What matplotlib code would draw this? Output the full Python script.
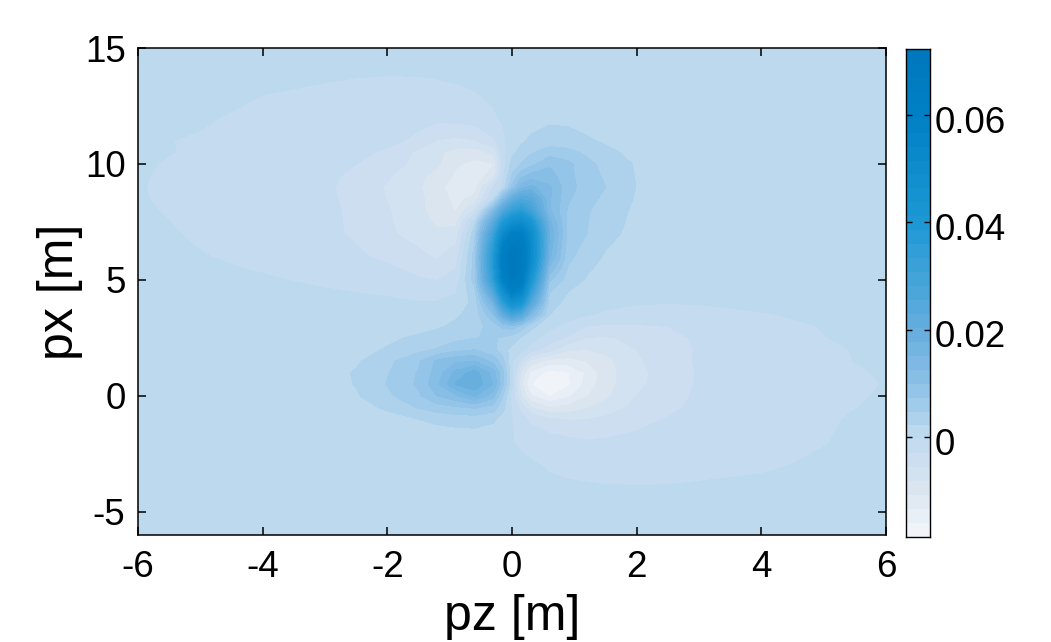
import matplotlib
matplotlib.use('Agg')
import matplotlib.pyplot as plt
import matplotlib.transforms as mtrans
import numpy as np
from matplotlib.colors import LinearSegmentedColormap

plt.rcParams['font.family'] = ['Liberation Sans', 'DejaVu Sans']
plt.rcParams['axes.unicode_minus'] = False

pz = [-6, -5.5, -5, -4, -3, -2.5, -2, -1.5, -1.2, -0.9, -0.6, -0.3, -0.15, 0,
      0.15, 0.3, 0.6, 0.9, 1.2, 1.5, 2, 2.5, 3, 4, 5, 5.5, 6]
px = [15, 14, 13.5, 13, 12, 11, 10.5, 10, 9.5, 9, 8.5, 8, 7.5, 7, 6.5, 6, 5.5, 5, 4.5, 4, 3.5, 3, 2.5, 2, 1.5, 1, 0.5, 0,
      -0.5, -1, -2, -3, -4, -5, -6]

# valores, en milesimas, una fila por cada px
z_milesimas = [
    [0, 0, 0, 0, 0, 0, 0, 0, 0, 0, 0, 0, 0, 0, 0, 0, 0, 0, 0, 0, 0, 0, 0, 0, 0, 0, 0],
    [0, 0, 0, -.05, -.15, -.25, -.3, -.3, -.25, -.2, -.1, -.05, 0, 0, .05, .1, .2, .2, .15, .1, .05, 0, 0, 0, 0, 0, 0],
    [0, 0, -.03, -.15, -.42, -.55, -.6, -.58, -.5, -.4, -.25, -.1, -.05, 0, .1, .25, .4, .35, .25, .15, .05, 0, 0, 0, 0, 0, 0],
    [0, 0, -.1, -.4, -.8, -1, -1.1, -1.1, -1, -.8, -.5, -.2, -.1, 0, .2, .5, .7, .6, .4, .3, .1, 0, 0, 0, 0, 0, 0],
    [0, -.1, -.2, -.9, -1.6, -1.9, -2.1, -2.2, -2.2, -2, -1.6, -.6, -.2, 0, .4, 1, 1.6, 1.5, 1.1, .7, .3, .1, 0, 0, 0, 0, 0],
    [0, -.38, -.6, -.9, -1.4, -1.8, -2.4, -3.6, -5.8, -6.2, -5.8, -3.5, -1, .8, 1.8, 2.6, 3.4, 3.2, 2.5, 1.8, .8, .3, .1, 0, 0, 0, 0],
    [0, -.35, -.7, -1.1, -1.8, -2.4, -3.4, -6.2, -7.6, -9.3, -9.6, -7.5, -1.6, 1.6, 3, 4.4, 6.2, 5.6, 4.2, 2.9, 1.3, .4, .1, 0, 0, 0, 0],
    [-.1, -.6, -.9, -1.3, -2.3, -3, -4.5, -6.4, -7.8, -10.5, -11.5, -11, -2, 3, 5, 6.5, 9.5, 8, 5.6, 3.9, 1.9, .6, .2, 0, 0, 0, 0],
    [-.2, -.75, -1, -1.5, -2.5, -3.5, -5.3, -7.4, -9.2, -11.2, -12.5, -9.5, -1.2, 5, 9, 10.8, 11, 8.2, 5.8, 4.4, 2, .65, .2, 0, 0, 0, 0],
    [-.25, -.9, -1.1, -1.6, -2.6, -3.9, -5.9, -7.8, -10.3, -11.7, -12, -3, 0, 8, 14, 16, 13, 8.5, 6, 4.8, 2.1, .7, .2, 0, 0, 0, 0],
    [-.2, -.8, -1.05, -1.55, -2.55, -3.7, -5.7, -7.6, -9.6, -11.5, -10, 0, 11, 20, 25, 24, 13, 7.8, 5.5, 4.3, 1.9, .6, .15, 0, 0, 0, 0],
    [-.1, -.6, -1, -1.5, -2.5, -3.5, -5.4, -7.3, -9.8, -10.9, -5, 12, 24, 33, 36, 30, 13, 7, 5, 3.8, 1.6, .5, .1, 0, 0, 0, 0],
    [-.05, -.4, -.9, -1.45, -2.45, -3.45, -5.3, -7, -8.8, -9, 1, 22, 38, 47, 50, 42, 16, 6.8, 4.9, 3.4, 1.45, .45, .1, 0, 0, 0, 0],
    [0, -.2, -.8, -1.4, -2.4, -3.4, -5.2, -6.6, -7.6, -7, 4, 30, 50, 60, 60, 50, 18, 6.5, 4.8, 3, 1.3, .4, .1, 0, 0, 0, 0],
    [0, -.15, -.5, -1.2, -2.1, -3, -4.4, -5.8, -6.8, -5.5, 5, 35, 58, 68, 66, 52, 17, 6, 4.1, 2.4, 1, .3, .05, 0, 0, 0, 0],
    [0, -.1, -.3, -1, -1.9, -2.6, -3.6, -5, -5.9, -4, 6, 38, 62, 71, 68, 52, 16, 5.5, 3.4, 1.9, .7, .2, 0, 0, 0, 0, 0],
    [0, -.03, -.15, -.55, -1.2, -1.7, -2.5, -3.9, -4.6, -3, 6, 37, 61, 71, 67, 48, 12, 4.5, 2.6, 1.3, .45, .15, 0, 0, 0, 0, 0],
    [0, 0, -.05, -.25, -.7, -1, -1.6, -2.7, -3.1, -2, 6, 34, 58, 68, 64, 42, 8, 3.6, 1.9, .9, .3, .1, 0, 0, 0, 0, 0],
    [0, 0, 0, -.1, -.3, -.45, -.6, -.9, -1, -.6, 4, 25, 46, 60, 55, 34, 5, 2.2, 1, .4, .1, 0, 0, 0, 0, 0, 0],
    [0, 0, 0, -.05, -.1, -.15, -.2, -.35, -.3, .3, 3, 16, 34, 46, 42, 24, 3.5, 1.2, .5, 0, -.3, -.4, -.35, -.15, 0, 0, 0],
    [0, 0, 0, 0, 0, .05, .1, .4, .9, 1.8, 3.2, 10, 20, 28, 24, 13, 2.2, .5, -.3, -.7, -1, -1, -.9, -.5, -.2, -.1, 0],
    [0, 0, 0, 0, .1, .2, .3, 1, 1.8, 2.7, 3.6, 6, 8, 9, 6.5, 3, .3, -1.2, -3.1, -3.5, -3.4, -3, -2.2, -1, -.35, -.2, -.1],
    [0, 0, 0, 0, .3, .8, 1.6, 2.7, 3.3, 4, 4.7, 5, 4.5, 3.5, 1.8, .5, -1.6, -3.4, -5.7, -5.9, -5, -3.8, -2.6, -1.2, -.45, -.25, -.1],
    [0, 0, 0, 0, .6, 1.2, 2.4, 4, 5, 6.5, 7.2, 5.5, 3, 1.5, .5, -1.5, -4.5, -7.8, -8.2, -7.6, -5.6, -4, -2.8, -1.3, -.6, -.38, -.1],
    [0, 0, 0, .1, 1, 1.8, 4, 7, 10.5, 12, 12.6, 9, 6, 0, -4, -9, -12, -12, -10.8, -9, -6, -4.2, -2.7, -1.4, -.7, -.4, -.2],
    [0, 0, .05, .15, 1.2, 2.4, 4.6, 7.6, 11, 16, 19, 14, 8, 0, -9, -14, -17, -16.2, -13, -9.3, -6.4, -4.4, -2.8, -1.5, -.9, -.55, -.3],
    [0, 0, .05, .15, 1.1, 2.3, 4.9, 7.8, 12, 18, 20, 15, 8, 0, -10, -16, -18.5, -16.5, -12.5, -9.2, -6.2, -4.3, -2.7, -1.5, -.95, -.7, -.35],
    [0, 0, 0, .1, .9, 1.9, 4.2, 6.9, 10, 12, 15.5, 11, 5, -1.5, -8, -13, -16.2, -14, -11, -8.8, -5.6, -4, -2.6, -1.4, -.9, -.55, -.3],
    [0, 0, 0, 0, .5, 1.2, 2.6, 5, 6.2, 7, 7.7, 6.2, 3, -.8, -4, -8, -10.8, -10, -8.6, -7, -4.9, -3.6, -2.4, -1.4, -.8, -.45, -.2],
    [0, 0, 0, 0, .2, .6, 1.2, 2.2, 2.8, 3.2, 3.4, 2.6, 1.2, -.4, -2, -3.6, -5.4, -5.8, -5.7, -5.1, -3.8, -2.9, -2, -1.2, -.6, -.3, -.1],
    [0, 0, 0, 0, 0, 0, .1, .2, .25, .3, .3, .2, .05, -.35, -.7, -1, -1.6, -2.2, -2.7, -2.6, -2.3, -1.9, -1.4, -.8, -.48, -.15, 0],
    [0, 0, 0, 0, 0, 0, 0, 0, 0, 0, 0, 0, 0, 0, 0, -.2, -.6, -.9, -1.1, -1.2, -1.2, -1, -.9, -.6, -.2, -.05, 0],
    [0, 0, 0, 0, 0, 0, 0, 0, 0, 0, 0, 0, 0, 0, 0, 0, 0, -.1, -.15, -.25, -.3, -.3, -.2, -.1, 0, 0, 0],
    [0, 0, 0, 0, 0, 0, 0, 0, 0, 0, 0, 0, 0, 0, 0, 0, 0, 0, 0, 0, 0, 0, 0, 0, 0, 0, 0],
    [0, 0, 0, 0, 0, 0, 0, 0, 0, 0, 0, 0, 0, 0, 0, 0, 0, 0, 0, 0, 0, 0, 0, 0, 0, 0, 0],
]

z_min = -0.0186
z_max = 0.0723
n_bandas = 35

ticks_x = [-6, -4, -2, 0, 2, 4, 6]
ticks_y = [-5, 0, 5, 10, 15]
ticks_barra = [0, 0.02, 0.04, 0.06]
etiquetas_barra = ['0', '0.02', '0.04', '0.06']

paradas = [(-0.0186, '#f3f6fa'), (-0.01, '#dbe5f0'), (-0.0016, '#c4dbef'), (0.0009, '#bbd9ee'),
           (0.01, '#8cc0e7'), (0.02, '#65aede'), (0.04, '#1c98d4'), (0.06, '#0081c5'), (0.0723, '#0077bd')]
pos = [(v - z_min) / (z_max - z_min) for v, _ in paradas]
cmap = LinearSegmentedColormap.from_list('azules', list(zip(pos, [c for _, c in paradas])), N=256)

W, H = 1051, 642
fig = plt.figure(figsize=(W / 100, H / 100), dpi=100)
ax = fig.add_axes([138 / W, 1 - 535 / H, 748 / W, 487 / H])
cax = fig.add_axes([906 / W, 1 - 537 / H, 24 / W, 488 / H])

Z = np.array(z_milesimas) / 1000
niveles = np.linspace(z_min, z_max, n_bandas + 1)
cf = ax.contourf(pz, px, Z, levels=niveles, cmap=cmap, vmin=z_min, vmax=z_max, extend='both')

ax.set_xlim(-6, 6)
ax.set_ylim(-6, 15)
ax.set_xticks(ticks_x)
ax.set_yticks(ticks_y)
ax.tick_params(direction='in', length=5.5, width=1.1, top=True, right=True, labelsize=26.5, pad=9)
ax.tick_params(axis='x', pad=11)
ax.set_xlabel('pz [m]', fontsize=36, labelpad=6)
ax.set_ylabel('px [m]', fontsize=36, labelpad=1)
for s in ax.spines.values():
    s.set_linewidth(1.1)

# barra de color por bandas
centros = (niveles[:-1] + niveles[1:]) / 2
cax.pcolormesh([0, 1], niveles, centros.reshape(-1, 1), cmap=cmap, vmin=z_min, vmax=z_max)
cax.set_xticks([])
cax.yaxis.tick_right()
cax.set_yticks(ticks_barra)
cax.set_yticklabels(etiquetas_barra)
cax.tick_params(axis='y', direction='in', length=4, width=1, left=True, right=True, labelsize=26.5, pad=3)
for s in cax.spines.values():
    s.set_linewidth(1)

# las etiquetas de la barra quedan un poco mas abajo que su marca
baja = mtrans.ScaledTranslation(0, -3 / 72, fig.dpi_scale_trans)
for etiqueta in cax.get_yticklabels():
    etiqueta.set_transform(etiqueta.get_transform() + baja)

fig.savefig('out.png', dpi=100)
